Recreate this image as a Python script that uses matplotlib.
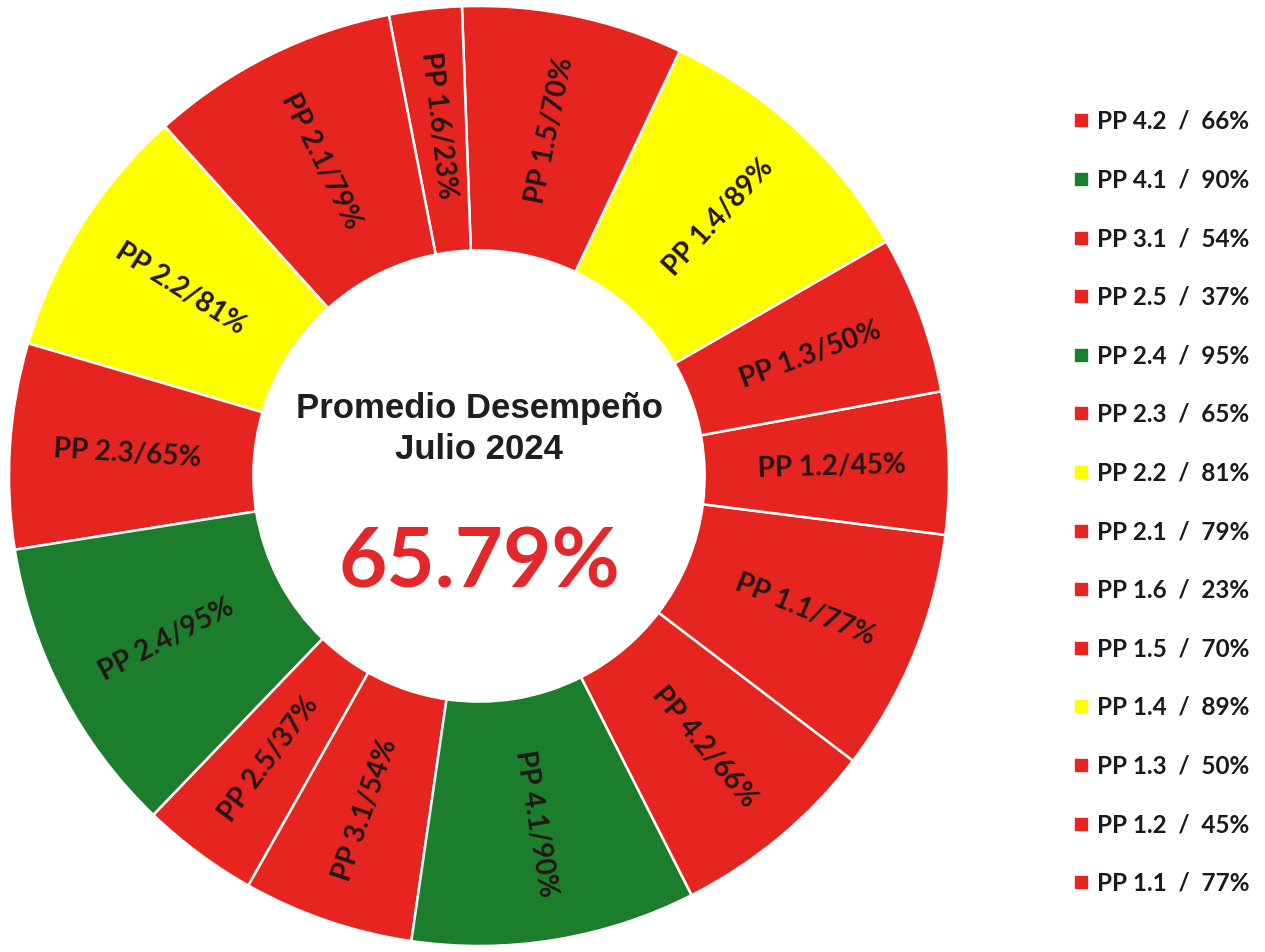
import matplotlib
matplotlib.use("Agg")
import matplotlib.pyplot as plt
from matplotlib.lines import Line2D
import numpy as np

# ── Data ───────────────────────────────────────────────────────────────────
labels = ["PP 1.1", "PP 1.2", "PP 1.3", "PP 1.4", "PP 1.5", "PP 1.6", "PP 2.1",
          "PP 2.2", "PP 2.3", "PP 2.4", "PP 2.5", "PP 3.1", "PP 4.1", "PP 4.2"]
values = [77, 45, 50, 89, 70, 23, 79, 81, 65, 95, 37, 54, 90, 66]
status = ["r", "r", "r", "y", "r", "r", "r", "y", "r", "g", "r", "r", "g", "r"]

title = "Promedio Desempeño\nJulio 2024"

RED = "#E62420"
YELLOW = "#FFFF00"
GREEN = "#1C7D2C"
palette = {"r": RED, "y": YELLOW, "g": GREEN}
colors = [palette[s] for s in status]

average = sum(values) / len(values)

# ── Figure ─────────────────────────────────────────────────────────────────
W, H = 1265, 952
fig = plt.figure(figsize=(W / 100, H / 100), dpi=100)
fig.patch.set_facecolor("white")

cx, cy, R = 479, 476, 470
ax = fig.add_axes([(cx - R) / W, (H - cy - R) / H, 2 * R / W, 2 * R / H])
ax.set_aspect("equal")

hole = 0.48
wedges, _ = ax.pie(values, colors=colors, startangle=-37.3, counterclock=True,
                   radius=1.0,
                   wedgeprops=dict(width=1 - hole, edgecolor="white", linewidth=1.8))
ax.set_xlim(-1, 1)
ax.set_ylim(-1, 1)
ax.axis("off")

# Radial labels inside each wedge, kept upright
label_r = 0.75
for w, lab, v in zip(wedges, labels, values):
    mid = (w.theta1 + w.theta2) / 2
    rot = (mid + 180) % 360 - 180
    if rot > 90:
        rot -= 180
    elif rot < -90:
        rot += 180
    x = label_r * np.cos(np.radians(mid))
    y = label_r * np.sin(np.radians(mid))
    ax.text(x, y, f"{lab}/{v}%", rotation=rot, rotation_mode="anchor",
            ha="center", va="center", fontsize=20, fontweight="bold",
            family="Lato", color="#231616")

# Centre annotation
ax.text(0, 0.10, title, ha="center", va="center", fontsize=25,
        fontweight="bold", family="Liberation Sans", color="#1e1e1e",
        linespacing=1.3)
ax.text(0, -0.188, f"{average:.2f}%", ha="center", va="center", fontsize=60,
        fontweight="bold", family="Lato", color="#E2282A")

# Legend (reverse order, top = last category)
handles = [Line2D([], [], marker="s", linestyle="none", markersize=8,
                  markerfacecolor=c, markeredgecolor=c) for c in colors]
leg_labels = [f"{lab}  /  {v}%" for lab, v in zip(labels, values)]
leg = fig.legend(handles[::-1], leg_labels[::-1], loc="upper left",
                 bbox_to_anchor=(1052 / W, 1 - 88 / H), frameon=False,
                 handlelength=0.6, handletextpad=0.35, labelspacing=1.465,
                 prop=dict(family="Lato", weight="bold", size=17.5))
for t in leg.get_texts():
    t.set_color("#1a1a1a")

fig.savefig("out.png", dpi=100, facecolor="white")
